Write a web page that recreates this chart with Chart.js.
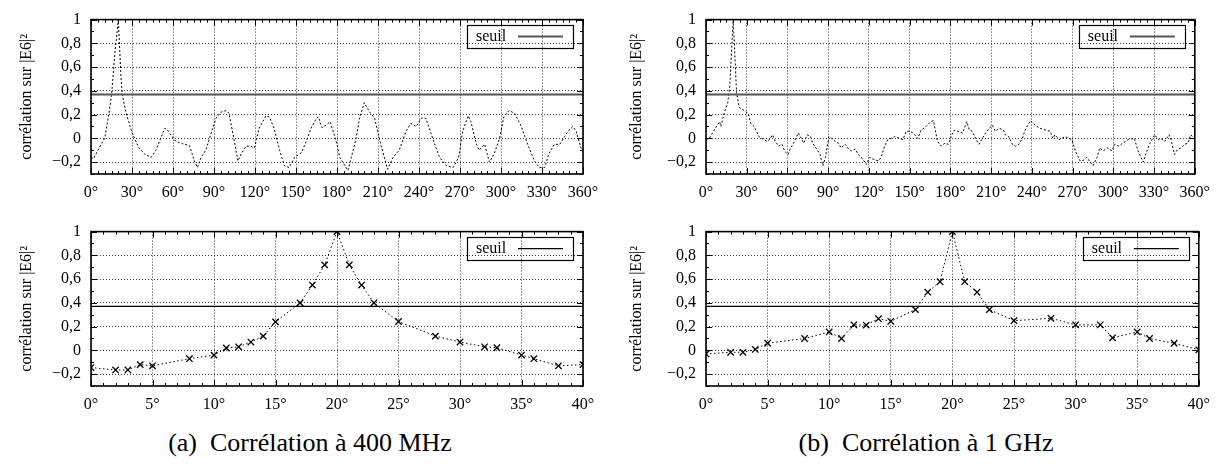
<!DOCTYPE html>
<html lang="fr">
<head>
<meta charset="utf-8">
<script src="https://cdn.jsdelivr.net/npm/chart.js@4.4.0/dist/chart.umd.min.js"></script>
<style>
  html, body { margin: 0; padding: 0; background: #fff; }
  body { width: 1219px; height: 465px; position: relative; overflow: hidden; font-family: 'Liberation Serif', 'Times New Roman', serif; }
  canvas { position: absolute; }
  .caption { position: absolute; top: 428px; width: 500px; font-family: 'Liberation Serif', 'Times New Roman', serif; font-size: 26px; line-height: 30px; text-align: center; white-space: pre; color: #000; }
</style>
</head>
<body>
<canvas id="top400" width="610" height="210" style="left:0;top:0"></canvas>
<canvas id="top1g" width="609" height="210" style="left:610px;top:0"></canvas>
<canvas id="zoom400" width="610" height="210" style="left:0;top:212px"></canvas>
<canvas id="zoom1g" width="609" height="210" style="left:610px;top:212px"></canvas>
<div class="caption" style="left:60px">(a)  Corrélation à 400 MHz</div>
<div class="caption" style="left:676px">(b)  Corrélation à 1 GHz</div>

<script>
/* global Chart */

// seuil de corrélation
const seuil = 0.37;

// 400 MHz, tour complet (degrés, corrélation)
const anglesTop400 = [0, 2, 5, 8, 10, 13, 15, 17.5, 20, 22, 23, 25.5, 30, 35, 39, 44, 47.5, 51, 54, 56, 59, 62, 67, 72, 76, 78, 80.5, 84, 87.5, 91.5, 95, 99, 101, 104.5, 107.5, 110, 113.5, 117, 119.5, 123, 128, 130.5, 134, 138, 141.5, 145, 149, 154, 157.5, 161, 165, 166.5, 169, 172, 175, 178, 180, 182, 188, 190.5, 194, 196.5, 200, 204, 207.5, 212, 217, 221, 225.5, 230.5, 234, 238, 241.5, 245, 250, 255, 260, 265, 269, 272, 276, 278, 282, 284, 288, 291.5, 295, 299, 302, 306, 310, 314.5, 319.5, 324.5, 328, 332, 335, 339, 343, 346.5, 349, 352.5, 355, 358.5, 360];
const corrTop400 = [-0.16, -0.17, -0.1, -0.04, 0.0, 0.2, 0.36, 0.72, 1.0, 0.5, 0.36, 0.22, 0.05, -0.08, -0.13, -0.16, -0.1, 0.0, 0.085, 0.07, 0.02, -0.025, -0.045, -0.06, -0.2, -0.245, -0.16, -0.1, 0.03, 0.17, 0.22, 0.235, 0.21, 0.0, -0.19, -0.13, -0.065, -0.065, -0.08, 0.085, 0.19, 0.18, 0.085, -0.1, -0.23, -0.245, -0.16, -0.12, -0.025, 0.085, 0.17, 0.18, 0.09, 0.11, 0.14, 0.03, -0.05, -0.16, -0.27, -0.16, 0.0, 0.17, 0.3, 0.22, 0.17, -0.05, -0.26, -0.16, -0.1, 0.06, 0.125, 0.1, 0.17, 0.17, 0.0, -0.16, -0.23, -0.245, -0.16, 0.06, 0.19, 0.14, -0.05, -0.1, -0.05, -0.2, -0.13, 0.0, 0.18, 0.235, 0.21, 0.11, -0.05, -0.19, -0.245, -0.245, -0.13, -0.05, -0.05, 0.015, 0.06, 0.1, 0.06, -0.08, -0.1];

// 1 GHz, tour complet
const anglesTop1G = [0, 2.5, 6, 10, 11, 13.5, 16, 17.5, 19, 20, 21, 22.5, 24.5, 28, 31, 33, 35.5, 39, 42.5, 45, 47.5, 49, 51, 53.5, 56, 58, 60.5, 62, 64.5, 68, 69.5, 72, 74.5, 77, 78.5, 81.5, 84, 86, 88, 90.5, 92.5, 95, 97.5, 99.5, 102.5, 105, 107, 110, 112, 114.5, 117, 118, 120.5, 123, 127, 129, 131.5, 134, 136.5, 139, 142.5, 145, 147.5, 150, 152.5, 156, 158.5, 162, 165.5, 167.5, 170.5, 173, 176, 178.5, 181, 183, 185, 189, 192, 194, 196, 199, 201, 203.5, 206, 208.5, 211, 213, 216, 219, 220.5, 223, 225.5, 228, 230.5, 233, 235, 239, 242.5, 246, 250, 253.5, 255.5, 257, 260, 262, 264.5, 267, 269.5, 272, 275.5, 278, 280.5, 283, 285, 288, 290, 292.5, 296, 299, 301, 304, 307, 311, 315.5, 318, 322, 324, 327, 330.5, 333, 335, 338, 341, 342.5, 345, 347.5, 350, 352.5, 355, 357, 360];
const corrTop1G = [-0.01, 0.0, 0.07, 0.14, 0.1, 0.22, 0.3, 0.44, 0.77, 1.0, 0.77, 0.385, 0.26, 0.235, 0.21, 0.125, 0.1, 0.015, -0.01, -0.025, 0.0, 0.03, -0.025, -0.065, -0.05, -0.11, -0.135, -0.09, -0.04, 0.045, 0.015, -0.04, 0.03, 0.015, -0.04, -0.09, -0.135, -0.23, -0.16, 0.015, 0.0, -0.025, -0.04, -0.08, -0.05, -0.09, -0.105, -0.09, -0.135, -0.16, -0.2, -0.22, -0.16, -0.175, -0.19, -0.16, -0.065, -0.01, 0.0, 0.015, 0.0, -0.01, 0.06, 0.06, 0.045, 0.0, 0.07, 0.1, 0.14, 0.15, -0.025, -0.065, -0.04, -0.05, 0.03, 0.07, 0.06, 0.045, 0.14, 0.07, 0.06, -0.01, -0.05, 0.0, 0.045, 0.085, 0.11, 0.06, 0.085, 0.07, 0.03, 0.015, -0.05, -0.065, -0.05, 0.0, 0.07, 0.15, 0.11, 0.085, 0.07, 0.06, 0.0, 0.03, -0.01, 0.0, 0.015, 0.0, -0.01, -0.105, -0.19, -0.185, -0.16, -0.2, -0.23, -0.16, -0.08, -0.105, -0.08, -0.105, -0.05, -0.065, -0.04, -0.01, 0.0, -0.1, -0.2, -0.13, -0.04, 0.03, -0.01, 0.0, -0.025, 0.03, -0.01, -0.135, -0.09, -0.08, -0.05, -0.04, 0.03, 0.0];

// zoom 0..40 degrés (points mesurés)
const anglesZoom = [0, 2, 3, 4, 5, 8, 10, 11, 12, 13, 14, 15, 17, 18, 19, 20, 21, 22, 23, 25, 28, 30, 32, 33, 35, 36, 38, 40];
const corrZoom400 = [-0.145, -0.165, -0.165, -0.12, -0.13, -0.07, -0.04, 0.02, 0.03, 0.07, 0.12, 0.24, 0.4, 0.55, 0.72, 1.0, 0.72, 0.55, 0.4, 0.243, 0.12, 0.07, 0.03, 0.022, -0.04, -0.07, -0.13, -0.12];
const corrZoom1G = [-0.03, -0.016, -0.016, 0.008, 0.06, 0.1, 0.155, 0.1, 0.215, 0.213, 0.267, 0.245, 0.343, 0.49, 0.578, 1.0, 0.578, 0.49, 0.343, 0.25, 0.27, 0.215, 0.215, 0.106, 0.155, 0.1, 0.06, 0.005];

const yTickValues = [-0.2, 0, 0.2, 0.4, 0.6, 0.8, 1];

const el = (id) => document.getElementById(id);
const SERIF = "'Liberation Serif', 'Times New Roman', serif";
const FONT = { family: SERIF, size: 16 };

const fmtY = (v) => {
  if (v === 0) return "0";
  if (v === 1) return "1";
  return v.toFixed(1).replace(".", ",").replace("-", "\u2212");
};

// cadre, graduations intérieures et légende façon gnuplot
const gnuplotFrame = {
  id: "gnuplotFrame",
  afterDraw(chart, _args, opts) {
    const { ctx, chartArea: a, scales: { x, y } } = chart;
    ctx.save();
    ctx.strokeStyle = "#000";
    ctx.lineWidth = 1;
    ctx.setLineDash([]);
    const seg = (x1, y1, x2, y2) => { ctx.beginPath(); ctx.moveTo(x1, y1); ctx.lineTo(x2, y2); ctx.stroke(); };

    const nx = Math.round((x.max - x.min) / opts.xMinor);
    for (let i = 0; i <= nx; i++) {
      const v = x.min + i * opts.xMinor;
      const major = Math.abs(v / opts.xMajor - Math.round(v / opts.xMajor)) < 1e-6;
      const len = major ? 6 : 3;
      const px = Math.round(x.getPixelForValue(v)) + 0.5;
      seg(px, a.bottom, px, a.bottom - len);
      seg(px, a.top, px, a.top + len);
    }
    for (let i = -3; i <= 10; i++) {
      const major = i % 2 === 0 && i >= -2;
      const len = major ? 6 : 3;
      const py = Math.round(y.getPixelForValue(i / 10)) + 0.5;
      seg(a.left, py, a.left + len, py);
      seg(a.right, py, a.right - len, py);
    }

    ctx.lineWidth = 1.6;
    ctx.strokeRect(a.left, a.top, a.right - a.left, a.bottom - a.top);

    // légende
    const bw = 106, bh = 23;
    const bx = a.right - 10 - bw, by = a.top + 5;
    ctx.lineWidth = 1.2;
    ctx.strokeRect(Math.round(bx) + 0.5, Math.round(by) + 0.5, bw, bh);
    ctx.fillStyle = "#000";
    ctx.font = `16px ${SERIF}`;
    ctx.textBaseline = "middle";
    ctx.textAlign = "left";
    ctx.fillText("seuil", bx + 9, by + bh / 2 + 1);
    ctx.strokeStyle = opts.seuilColor;
    ctx.lineWidth = opts.seuilWidth;
    seg(bx + bw - 55, by + bh / 2 + 0.5, bx + bw - 10, by + bh / 2 + 0.5);
    ctx.restore();
  }
};

Chart.register(gnuplotFrame);
Chart.defaults.font.family = SERIF;
Chart.defaults.color = "#000";

const buildChart = (id, { xs, ys, xMax, xStep, xMinor, yWidth, padRight, dash, pointRadius, seuilColor, seuilWidth }) => new Chart(el(id), {
  type: "line",
  data: {
    datasets: [
      {
        label: "seuil",
        data: [{ x: 0, y: seuil }, { x: xMax, y: seuil }],
        borderColor: seuilColor,
        borderWidth: seuilWidth,
        pointRadius: 0
      },
      {
        label: "corrélation",
        data: xs.map((x, i) => ({ x, y: ys[i] })),
        borderColor: "#000",
        borderWidth: 1,
        borderDash: dash,
        pointStyle: "crossRot",
        pointRadius,
        pointBorderColor: "#000",
        pointBorderWidth: 1.3,
        tension: 0
      }
    ]
  },
  options: {
    responsive: false,
    animation: false,
    events: [],
    layout: { padding: { left: 0, right: padRight, top: 15, bottom: 0 } },
    plugins: {
      legend: { display: false },
      tooltip: { enabled: false },
      gnuplotFrame: { xMinor, xMajor: xStep, seuilColor, seuilWidth }
    },
    scales: {
      x: {
        type: "linear",
        min: 0,
        max: xMax,
        afterFit: (s) => { s.height = 36; },
        ticks: { stepSize: xStep, callback: (v) => `${v}\u00b0`, font: FONT, color: "#000", padding: 9, maxRotation: 0, autoSkip: false },
        grid: { color: "#333", lineWidth: 1, drawTicks: false },
        border: { display: false, dash: [1, 2] }
      },
      y: {
        min: -0.3,
        max: 1,
        afterFit: (s) => { s.width = yWidth; },
        afterBuildTicks: (s) => { s.ticks = yTickValues.map((value) => ({ value })); },
        ticks: { callback: fmtY, font: FONT, color: "#000", padding: 10 },
        grid: { color: "#333", lineWidth: 1, drawTicks: false },
        border: { display: false, dash: [1, 2] },
        title: { display: true, text: "corrélation sur |E6|\u00b2", font: FONT, color: "#000", padding: { top: 17, bottom: 0 } }
      }
    }
  }
});

buildChart("top400", { xs: anglesTop400, ys: corrTop400, xMax: 360, xStep: 30, xMinor: 5, yWidth: 91, padRight: 27, dash: [2, 2], pointRadius: 0, seuilColor: "#555", seuilWidth: 2 });
buildChart("top1g", { xs: anglesTop1G, ys: corrTop1G, xMax: 360, xStep: 30, xMinor: 5, yWidth: 96, padRight: 20, dash: [2, 2], pointRadius: 0, seuilColor: "#555", seuilWidth: 2 });
buildChart("zoom400", { xs: anglesZoom, ys: corrZoom400, xMax: 40, xStep: 5, xMinor: 1, yWidth: 91, padRight: 27, dash: [1.5, 2.5], pointRadius: 4.5, seuilColor: "#000", seuilWidth: 1.3 });
buildChart("zoom1g", { xs: anglesZoom, ys: corrZoom1G, xMax: 40, xStep: 5, xMinor: 1, yWidth: 96, padRight: 20, dash: [1.5, 2.5], pointRadius: 4.5, seuilColor: "#000", seuilWidth: 1.3 });
</script>
</body>
</html>
